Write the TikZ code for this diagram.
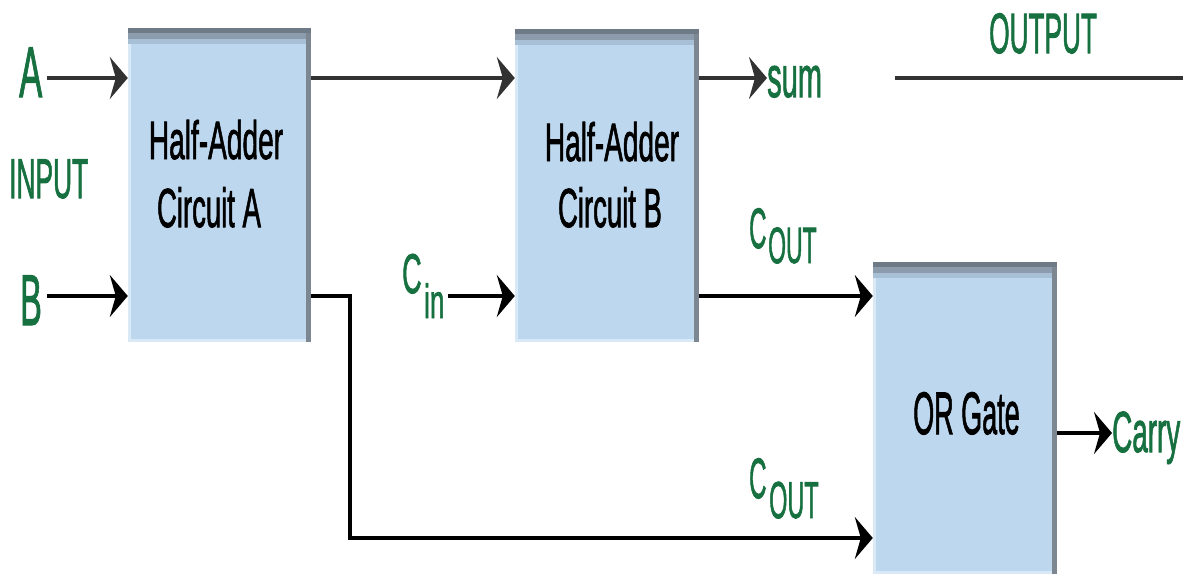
\documentclass[tikz,border=0pt]{standalone}
\usepackage{fontspec}
\setmainfont[FakeBold=1.6,AutoFakeBold=1.6]{Liberation Sans}
\newfontfamily\heavy[FakeBold=1.8]{Liberation Sans}
\usetikzlibrary{arrows.meta,calc}
\definecolor{boxblue}{RGB}{189,215,238}
\definecolor{boxlight}{RGB}{218,233,246}
\definecolor{bandA}{RGB}{110,122,134}
\definecolor{bandB}{RGB}{140,156,172}
\definecolor{bandC}{RGB}{168,192,214}
\definecolor{edgegray}{RGB}{125,135,145}
\definecolor{txtgreen}{RGB}{22,112,64}
\definecolor{wiregray}{RGB}{50,50,50}
\newcommand\nar[3]{\scalebox{#1}[1]{\fontsize{#2}{#2}\selectfont\heavy #3}}
\tikzset{
  blk/.style={fill=boxblue, inner sep=0pt, minimum width=183pt,
    path picture={
      \fill[boxlight] (path picture bounding box.north west) rectangle ([xshift=3pt]path picture bounding box.south west);
      \fill[boxlight] ([yshift=3pt]path picture bounding box.south west) rectangle (path picture bounding box.south east);
      \fill[bandA] (path picture bounding box.north west) rectangle ([yshift=-5pt]path picture bounding box.north east);
      \fill[bandB] ([yshift=-5pt]path picture bounding box.north west) rectangle ([yshift=-11pt]path picture bounding box.north east);
      \fill[bandC] ([yshift=-11pt]path picture bounding box.north west) rectangle ([yshift=-16pt]path picture bounding box.north east);
      \fill[edgegray] ([xshift=-5pt,yshift=-5pt]path picture bounding box.north east) rectangle (path picture bounding box.south east);
    }},
  boxtxt/.style={inner sep=0pt, anchor=base, text=black},
  glbl/.style={inner sep=0pt, anchor=base west, text=txtgreen},
  wire/.style={line width=3.6pt, draw=black},
  topwire/.style={line width=3.6pt, draw=wiregray},
  tip/.style={-{Stealth[length=18pt,width=42pt,inset=6pt]}}
}
\begin{document}
\begin{tikzpicture}[x=1pt,y=-1pt]
\useasboundingbox (0,0) rectangle (1183,573);

% boxes
\node[blk, minimum height=314pt] (ha) at (219.5,185) {};
\node[blk, minimum height=313pt, minimum width=184pt] (hb) at (607,185.5) {};
\node[blk, minimum height=312pt, minimum width=184pt] (org) at (965,418) {};

% box texts
\node[boxtxt] (ha1) at (216,159) {\nar{0.52}{54pt}{Half-Adder}};
\node[boxtxt] (ha2) at (209,227) {\nar{0.5}{55pt}{Circuit A}};
\node[boxtxt] (hb1) at (612,161) {\nar{0.52}{54pt}{Half-Adder}};
\node[boxtxt] (hb2) at (610,227) {\nar{0.5}{55pt}{Circuit B}};
\node[boxtxt] (orlbl) at (966.5,434) {\nar{0.45}{60pt}{OR Gate}};

% green labels
\node[glbl] (la) at (19,97) {\nar{0.48}{72pt}{A}};
\node[glbl] (lb) at (20,325) {\nar{0.45}{72pt}{B}};
\node[glbl] (linput) at (9,198) {\nar{0.47}{56pt}{INPUT}};
\node[glbl] (lsum) at (767,97) {\nar{0.5}{58pt}{sum}};
\node[glbl] (lcin) at (402,293) {\nar{0.48}{56pt}{C}};
\node[glbl] (lcinsub) at (424,318) {\nar{0.54}{48pt}{in}};
\node[glbl] (lc1) at (749,248) {\nar{0.42}{57pt}{C}};
\node[glbl] (lc1sub) at (768,263) {\nar{0.45}{51pt}{OUT}};
\node[glbl] (lc2) at (749,498) {\nar{0.42}{57pt}{C}};
\node[glbl] (lc2sub) at (769,518) {\nar{0.45}{52pt}{OUT}};
\node[glbl] (lcarry) at (1112,452) {\nar{0.48}{58pt}{Carry}};
\node[glbl] (lout) at (989,53) {\nar{0.46}{57pt}{OUTPUT}};

% coordinates
\coordinate (ina) at (47,78);
\coordinate (inb) at (47,296);
\coordinate (low) at (0,538);
\coordinate (cy) at (0,433);
\coordinate (outl) at (895,78);
\coordinate (outr) at (1183,78);

% connectors
\draw[topwire,tip] (ina) -- (ina -| ha.west);
\draw[wire,tip] (inb) -- (inb -| ha.west);
\draw[topwire,tip] (ina -| ha.east) -- (ina -| hb.west);
\draw[topwire,tip] (ina -| hb.east) -- (ina -| lsum.west);
\draw[wire,tip] ([xshift=3pt]inb -| lcinsub.east) -- (inb -| hb.west);
\draw[wire,tip] (inb -| hb.east) -- (inb -| org.west);
\draw[wire,tip] (inb -| ha.east) -- ++(39,0) |- (low -| org.west);
\draw[wire,tip] (cy -| org.east) -- (cy -| lcarry.west);
\draw[topwire] (outl) -- (outr);
\end{tikzpicture}
\end{document}
